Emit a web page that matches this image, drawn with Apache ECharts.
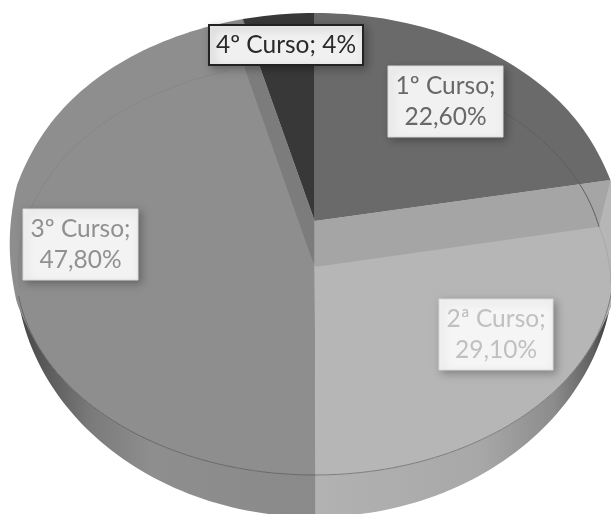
<!DOCTYPE html>
<html><head><meta charset="utf-8">
<style>html,body{margin:0;padding:0;background:#fff}#c{width:611px;height:514px}</style>
<script src="https://cdn.jsdelivr.net/npm/echarts@6/dist/echarts.min.js"></script>
</head><body><div id="c"></div>
<script>
const categories = ['1º Curso', '2ª Curso', '3º Curso', '4º Curso'];
const values = [22.6, 29.1, 47.8, 4];
const valueLabels = ['22,60%', '29,10%', '47,80%', '4%'];

const faceColors = ['#6a6a6a', '#b6b6b6', '#8e8e8e', '#383838'];
const labelInk = ['#686868', '#c0c0c0', '#909090', '#2a2a2a'];
const labelFill = ['#f1f1f1', '#f5f5f5', '#f3f3f3', '#f0f0f0'];
const labelBoxes = [[388, 66, 115, 71], [439, 299, 114, 71], [23, 209, 115, 71], [209, 25, 154, 40]];

const CX = 314.7, UP = 221, LOW = 267, RY = 208, WALL_RY = 250;
const total = values.reduce((a, b) => a + b, 0);
const edges = [0];
values.forEach(v => edges.push(edges[edges.length - 1] + v / total * 360));
const rad = d => d * Math.PI / 180;
const onEllipse = (deg, cy, rx, ry) => [CX + rx * Math.sin(rad(deg)), cy - ry * Math.cos(rad(deg))];
const rim = deg => {
  const s = Math.sin(rad(deg)), c = -Math.cos(rad(deg));
  const k = Math.max(-1, Math.min(1, c * 6));
  return [CX + (299 + 6 * Math.pow(Math.abs(s), 40)) * s, 244 + 23 * k + RY * c];
};
const sweep = (a, b, f) => {
  const n = Math.max(2, Math.ceil(Math.abs(b - a) / 1.5)), out = [];
  for (let i = 0; i <= n; i++) out.push(f(a + (b - a) * i / n));
  return out;
};
const poly = (points, fill, z2) => ({ type: 'polygon', silent: true, z2, shape: { points }, style: { fill } });
const line = (points, stroke, z2, width) => ({ type: 'polyline', silent: true, z2, shape: { points }, style: { fill: 'none', stroke, lineWidth: width || 1 } });
const grad = stops => new echarts.graphic.LinearGradient(0, 0, 1, 0, stops.map(s => ({ offset: s[0], color: s[1] })));

const wallFills = [null,
  grad([[0, '#b2b2b2'], [0.55, '#a8a8a8'], [0.8, '#8c8c8c'], [0.93, '#606060'], [1, '#2e2e2e']]),
  grad([[0, '#444444'], [0.1, '#5a5a5a'], [0.25, '#7a7a7a'], [0.45, '#8e8e8e'], [1, '#8a8a8a']]),
  null];
const bandFills = [null, '#a5a5a5', '#7c7c7c', null];

function renderSlice(params) {
  const i = params.dataIndex, a = edges[i], b = edges[i + 1], kids = [];
  const lowEdge = d => onEllipse(d, LOW, 299, RY);
  const wallEdge = d => onEllipse(d, LOW, 299, WALL_RY);
  if (i === 0 || i === 3) {
    kids.push(poly([[CX, UP]].concat(sweep(a, b, rim)), faceColors[i], 6));
    if (i === 0) kids.push(line(sweep(a + 16, b, d => onEllipse(d, LOW, 290, 204)), '#606060', 7));
  } else if (i === 1) {
    kids.push(poly(sweep(90, b, lowEdge).concat(sweep(b, 90, wallEdge)), wallFills[i], 1));
    kids.push(poly([[CX, LOW]].concat(sweep(a, b, rim)), faceColors[i], 2));
    const inner = onEllipse(a, LOW, 290, 204);
    kids.push(poly([[CX, UP], rim(a), inner, [CX, LOW]], bandFills[i], 3));
    kids.push(line(sweep(a, a + 16, d => onEllipse(d, LOW, 290 + 7 * (d - a) / 16, 204)), '#a8a8a8', 4));
    kids.push(line(sweep(a + 17, b, lowEdge), '#7d7d7d', 4));
  } else {
    kids.push(poly(sweep(a, 270, wallEdge).concat(sweep(270, a, lowEdge)), wallFills[i], 1));
    kids.push(poly([[CX, LOW]].concat(sweep(a, b, rim)), faceColors[i], 2));
    const inner = onEllipse(b, LOW, 290, 204);
    kids.push(poly([[CX, UP], rim(b), inner, [CX, LOW]], bandFills[i], 3));
    kids.push(line(sweep(a, 262, lowEdge), '#686868', 4));
    kids.push(line(sweep(b - 3, 264, d => onEllipse(d, LOW, 296, 205)), '#878787', 4));
  }
  const box = labelBoxes[i], oneLine = i === 3;
  kids.push({ type: 'rect', silent: true, z2: 20,
    shape: { x: box[0], y: box[1], width: box[2], height: box[3] },
    style: { fill: labelFill[i], stroke: oneLine ? '#222222' : '#d8d8d8', lineWidth: oneLine ? 2 : 1,
      shadowBlur: 8, shadowColor: 'rgba(0,0,0,0.28)', shadowOffsetX: 3, shadowOffsetY: 3 } });
  const rows = oneLine ? [categories[i] + '; ' + valueLabels[i]] : [categories[i] + ';', valueLabels[i]];
  const rowH = 31, top = box[1] + box[3] / 2 - rowH * rows.length / 2 + rowH / 2;
  rows.forEach((t, r) => kids.push({ type: 'text', silent: true, z2: 21,
    style: { text: t, x: box[0] + box[2] / 2, y: top + r * rowH, fill: labelInk[i],
      font: '24.5px Lato', align: 'center', verticalAlign: 'middle' } }));
  return { type: 'group', children: kids };
}

const chart = echarts.init(document.getElementById('c'), null, { renderer: 'canvas' });
chart.setOption({
  animation: false,
  backgroundColor: '#ffffff',
  series: [{
    type: 'custom',
    coordinateSystem: 'none',
    renderItem: renderSlice,
    data: categories.map((name, i) => ({ name, value: values[i] }))
  }]
});
</script></body></html>
